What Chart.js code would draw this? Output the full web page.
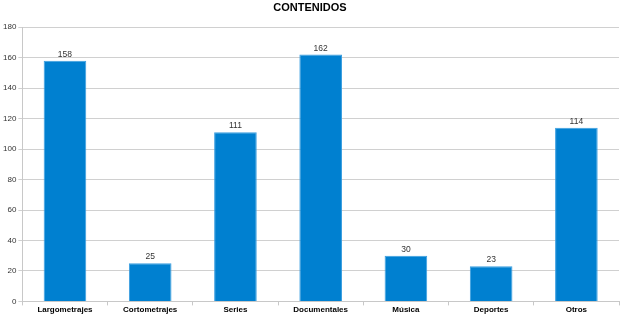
<!DOCTYPE html>
<html>
<head>
<meta charset="utf-8">
<script src="https://cdn.jsdelivr.net/npm/chart.js@4.4.0/dist/chart.umd.min.js"></script>
<style>
  html, body { margin: 0; padding: 0; background: #fff; }
  #wrap { width: 621px; height: 315px; }
</style>
</head>
<body>
<div id="wrap"><canvas id="barChart"></canvas></div>
<script>
// Chart data
const categories = ['Largometrajes', 'Cortometrajes', 'Series', 'Documentales', 'Música', 'Deportes', 'Otros'];
const contenidos = [158, 25, 111, 162, 30, 23, 114];
const yTicks = [0, 20, 40, 60, 80, 100, 120, 140, 160, 180];

const ctx = document.getElementById('barChart').getContext('2d');

// draws the value above each bar
const valueLabels = {
    id: 'valueLabels',
    afterDatasetsDraw(chart) {
        const c = chart.ctx;
        c.save();
        c.font = '8.5px "Liberation Sans", Arial, sans-serif';
        c.fillStyle = '#333';
        c.textAlign = 'center';
        c.textBaseline = 'bottom';
        chart.getDatasetMeta(0).data.forEach((bar, i) => {
            c.fillText(contenidos[i], bar.x, bar.y - 2);
        });
        c.restore();
    }
};

const barChart = new Chart(ctx, {
    type: 'bar',
    data: {
        labels: categories,
        datasets: [{
            label: 'Contenidos',
            data: contenidos,
            backgroundColor: '#0080d0',
            borderColor: '#3a9ee0',
            borderWidth: 1,
            barPercentage: 0.5,
            categoryPercentage: 1.0
        }]
    },
    options: {
        responsive: true,
        maintainAspectRatio: false,
        animation: false,
        layout: { padding: { left: 1, right: 2, top: 0, bottom: 0 } },
        plugins: {
            legend: { display: false },
            tooltip: { enabled: false },
            title: {
                display: true,
                text: 'CONTENIDOS',
                color: '#000',
                font: { family: '"Liberation Sans", Arial, sans-serif', size: 11, weight: 'bold' },
                padding: { top: 1, bottom: 13 }
            }
        },
        scales: {
            x: {
                grid: {
                    offset: true,
                    drawOnChartArea: false,
                    color: '#c8c8c8',
                    tickLength: 4
                },
                border: { color: '#c8c8c8' },
                ticks: {
                    color: '#000',
                    padding: 0,
                    font: { family: '"Liberation Sans", Arial, sans-serif', size: 8, weight: 'bold' }
                }
            },
            y: {
                min: 0,
                max: 180,
                afterBuildTicks(axis) {
                    axis.ticks = yTicks.map(v => ({ value: v }));
                },
                grid: { color: '#d0d0d0', tickLength: 4 },
                border: { color: '#c8c8c8' },
                ticks: {
                    color: '#333',
                    padding: 2,
                    font: { family: '"Liberation Sans", Arial, sans-serif', size: 8 }
                }
            }
        }
    },
    plugins: [valueLabels]
});
</script>
</body>
</html>
